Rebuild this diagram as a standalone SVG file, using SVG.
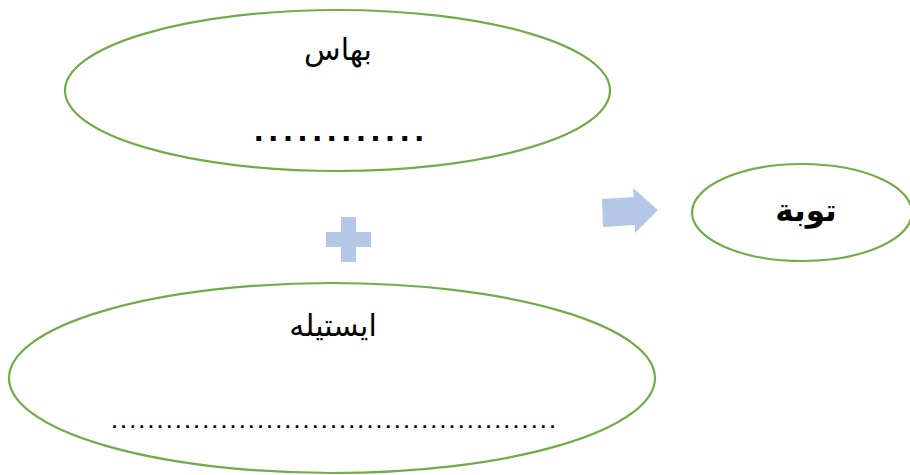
<svg xmlns="http://www.w3.org/2000/svg" width="910" height="475" viewBox="0 0 910 475">
<style>
.node ellipse{fill:#fff;stroke:#70ad47;stroke-width:2.2}
.ar{font-family:"DejaVu Serif","Liberation Serif","DejaVu Sans",serif;fill:#000;text-anchor:middle}
.dots{font-family:"Liberation Sans",sans-serif;font-weight:bold;fill:#000}
.shape{fill:#b4c7e7}
</style>
<rect width="910" height="475" fill="#fff"/>
<g id="node-bahas" class="node">
<ellipse cx="337.5" cy="90.5" rx="272.5" ry="80.5"/>
<text class="ar" x="338" y="60" font-size="30">بهاس</text>
<text class="dots" x="254" y="141" font-size="34" textLength="170" lengthAdjust="spacing">............</text>
</g>
<g id="node-istileh" class="node">
<ellipse cx="332" cy="378" rx="323" ry="95"/>
<text class="ar" x="333" y="336" font-size="30">ايستيله</text>
<text class="dots" x="112" y="428" font-size="18" textLength="443" lengthAdjust="spacing">.................................................</text>
</g>
<g id="node-taubah" class="node">
<ellipse cx="802" cy="212.5" rx="110" ry="48.5"/>
<text class="ar" x="806" y="221" font-size="31" font-weight="bold">توبة</text>
</g>
<g id="connectors">
<path class="shape" d="M326 232H341V217H356V232H371V247H356V262H341V247H326Z"/>
<path class="shape" d="M602 199L634 197L633 188L658 210L635 233L635 225L603 227Z"/>
</g>
</svg>
